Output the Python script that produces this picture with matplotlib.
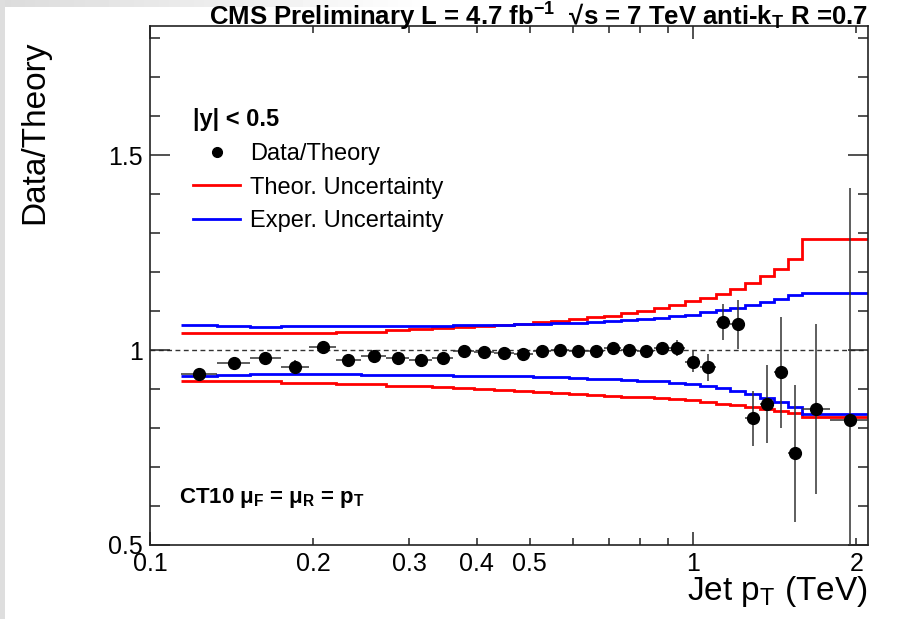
import numpy as np
import matplotlib
matplotlib.use("Agg")
import matplotlib.pyplot as plt
from matplotlib.lines import Line2D
from matplotlib.ticker import FixedLocator, FixedFormatter, MultipleLocator

plt.rcParams['font.family'] = ['Liberation Sans', 'DejaVu Sans']
plt.rcParams['mathtext.default'] = 'regular'

# jet pT bin edges (TeV)
pt_edges = [0.114, 0.133, 0.153, 0.174, 0.196, 0.220, 0.245, 0.272, 0.300, 0.330,
            0.362, 0.395, 0.430, 0.468, 0.507, 0.548, 0.592, 0.638, 0.686, 0.737,
            0.790, 0.846, 0.905, 0.967, 1.032, 1.101, 1.172, 1.248, 1.327, 1.410,
            1.497, 1.588, 1.784, 2.116]
# point positions inside each bin
pt_points = [0.123, 0.143, 0.163, 0.185, 0.208, 0.232, 0.258, 0.286, 0.315, 0.346,
             0.378, 0.412, 0.449, 0.487, 0.527, 0.570, 0.615, 0.662, 0.711, 0.763,
             0.818, 0.875, 0.935, 0.999, 1.066, 1.136, 1.209, 1.287, 1.368, 1.453,
             1.542, 1.683, 1.943]
ratio = [0.938, 0.966, 0.981, 0.957, 1.009, 0.975, 0.985, 0.980, 0.974, 0.981,
         0.998, 0.996, 0.993, 0.989, 0.998, 1.001, 0.997, 0.998, 1.005, 1.001,
         0.998, 1.005, 1.005, 0.970, 0.956, 1.073, 1.066, 0.825, 0.863, 0.943,
         0.735, 0.848, 0.822]
ratio_err = [0.006, 0.006, 0.006, 0.018, 0.006, 0.006, 0.006, 0.006, 0.006, 0.006,
             0.006, 0.006, 0.006, 0.006, 0.006, 0.006, 0.007, 0.008, 0.009, 0.010,
             0.012, 0.015, 0.020, 0.027, 0.034, 0.046, 0.062, 0.071, 0.100, 0.143,
             0.175, 0.218, 0.595]

# uncertainty bands (per bin)
theo_up = [1.044, 1.043, 1.043, 1.044, 1.044, 1.047, 1.047, 1.051, 1.054, 1.056,
           1.059, 1.062, 1.065, 1.068, 1.072, 1.076, 1.080, 1.084, 1.089, 1.095,
           1.101, 1.107, 1.115, 1.125, 1.134, 1.145, 1.158, 1.173, 1.190, 1.209,
           1.234, 1.285, 1.285]
theo_dn = [0.921, 0.920, 0.920, 0.917, 0.917, 0.913, 0.913, 0.909, 0.908, 0.906,
           0.903, 0.901, 0.898, 0.896, 0.893, 0.890, 0.888, 0.885, 0.883, 0.881,
           0.879, 0.877, 0.875, 0.872, 0.868, 0.863, 0.859, 0.854, 0.849, 0.844,
           0.839, 0.829, 0.829]
exp_up = [1.064, 1.062, 1.060, 1.061, 1.061, 1.062, 1.062, 1.062, 1.062, 1.063,
          1.064, 1.064, 1.065, 1.066, 1.067, 1.069, 1.071, 1.073, 1.075, 1.077,
          1.079, 1.083, 1.087, 1.091, 1.097, 1.103, 1.109, 1.115, 1.124, 1.132,
          1.141, 1.148, 1.148]
exp_dn = [0.934, 0.937, 0.938, 0.938, 0.938, 0.938, 0.937, 0.937, 0.937, 0.936,
          0.935, 0.935, 0.934, 0.933, 0.932, 0.931, 0.929, 0.927, 0.926, 0.924,
          0.922, 0.920, 0.917, 0.914, 0.909, 0.903, 0.896, 0.887, 0.878, 0.868,
          0.855, 0.836, 0.836]

x_major = [0.1, 1]
x_major_labels = ['0.1', '1']
x_minor = [0.2, 0.3, 0.4, 0.5, 0.6, 0.7, 0.8, 0.9, 2]
x_minor_labels = ['0.2', '0.3', '0.4', '0.5', '', '', '', '', '2']
y_major = [0.5, 1.0, 1.5]
y_major_labels = ['0.5', '1', '1.5']

W, H = 902, 619
def fx(px):
    return px / W
def fy(py):
    return 1 - py / H

fig = plt.figure(figsize=(W / 100, H / 100), dpi=100)

# light grey screenshot border on the top/left
top = fig.add_axes([0, fy(7), 1, 7 / H])
top.imshow(np.clip(np.linspace(0.86, 1.15, 256), 0, 1)[None, :], cmap='gray', vmin=0, vmax=1,
           aspect='auto', extent=[0, 1, 0, 1])
top.axis('off')
left = fig.add_axes([0, 0, 5 / W, 1])
left.set_facecolor('#dedede')
left.set_xticks([]); left.set_yticks([])
for s in left.spines.values():
    s.set_visible(False)

ax = fig.add_axes([fx(150), fy(545), (868 - 150) / W, (545 - 26) / H])
ax.set_xscale('log')
ax.set_xlim(0.1, 2.1)
ax.set_ylim(0.5, 1.832)

edges = np.array(pt_edges)
pts = np.array(pt_points)
xerr = [pts - edges[:-1], edges[1:] - pts]

ax.axhline(1.0, color='#333333', lw=1.0, ls=(0, (3.5, 2.5)), zorder=1)
st_theo_up = ax.stairs(theo_up, edges, baseline=None, color='#ff0000', lw=2.0, zorder=2)
ax.stairs(theo_dn, edges, baseline=None, color='#ff0000', lw=2.0, zorder=2)
st_exp_up = ax.stairs(exp_up, edges, baseline=None, color='#0000ff', lw=2.0, zorder=2)
ax.stairs(exp_dn, edges, baseline=None, color='#0000ff', lw=2.0, zorder=2)
ax.errorbar(pts, ratio, xerr=xerr, yerr=ratio_err, fmt='o', color='black',
            ecolor='#333333', elinewidth=1.1, capsize=0, markersize=8.5, zorder=3)

# axes / ticks in ROOT style
for s in ax.spines.values():
    s.set_linewidth(1.2)
    s.set_color('#222222')
ax.xaxis.set_major_locator(FixedLocator(x_major))
ax.xaxis.set_major_formatter(FixedFormatter(x_major_labels))
ax.xaxis.set_minor_locator(FixedLocator(x_minor))
ax.xaxis.set_minor_formatter(FixedFormatter(x_minor_labels))
ax.yaxis.set_major_locator(FixedLocator(y_major))
ax.yaxis.set_major_formatter(FixedFormatter(y_major_labels))
ax.yaxis.set_minor_locator(MultipleLocator(0.1))
ax.tick_params(which='both', direction='in', top=True, right=True, color='#222222',
               width=1.1, labelsize=18, pad=5)
ax.tick_params(axis='x', which='major', length=9.5)
ax.tick_params(axis='x', which='minor', length=5, labelsize=18, pad=5)
ax.tick_params(axis='y', which='major', length=14.4)
ax.tick_params(axis='y', which='minor', length=7.5)

ax.set_xlabel('Jet p$_{T}$ (TeV)', fontsize=24, loc='right')
ax.xaxis.set_label_coords(1.0, (545 - 574) / 519)
ax.set_ylabel('Data/Theory', fontsize=24, loc='top')
ax.yaxis.set_label_coords((50 - 150) / 718, (545 - 40) / 519)

fig.text(fx(868), fy(17), 'CMS Preliminary L = 4.7 fb$^{-1}$  √s = 7 TeV anti-k$_{T}$ R =0.7',
         ha='right', va='center', fontsize=18.5, fontweight='bold')
ax.text(fx(179), fy(498), 'CT10 μ$_{F}$ = μ$_{R}$ = p$_{T}$', transform=fig.transFigure,
        ha='left', va='center', fontsize=16, fontweight='bold')

dot = Line2D([], [], marker='o', ls='none', color='black', markersize=7)
ax.legend(handles=[dot, st_theo_up, st_exp_up],
          labels=['Data/Theory', 'Theor. Uncertainty', 'Exper. Uncertainty'],
          title='|y| < 0.5', title_fontproperties={'weight': 'bold', 'size': 17},
          alignment='left', loc='upper left', bbox_to_anchor=(fx(193), fy(108)),
          bbox_transform=fig.transFigure, frameon=False, fontsize=17,
          borderpad=0, borderaxespad=0, handlelength=2.0, handletextpad=0.42,
          labelspacing=0.5)

fig.savefig('out.png', dpi=100)
